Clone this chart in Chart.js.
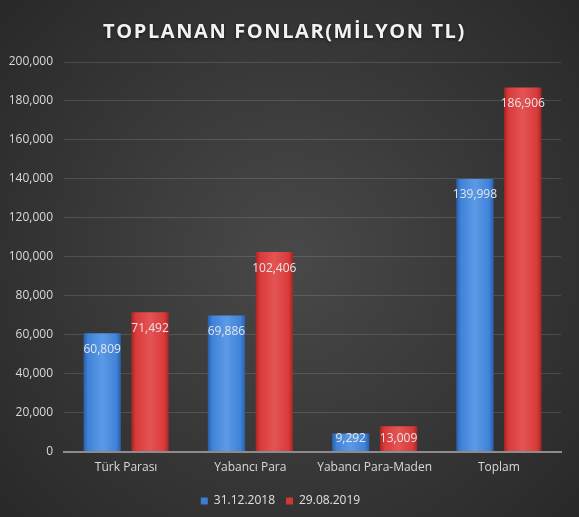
<!DOCTYPE html>
<html><head><meta charset="utf-8">
<script src="https://cdn.jsdelivr.net/npm/chart.js@4/dist/chart.umd.min.js"></script>
<style>html,body{margin:0;padding:0;background:#fff;}#wrap{width:579px;height:517px;position:relative;}</style>
</head><body><div id="wrap"><canvas id="c" width="579" height="517"></canvas></div>
<script>
const categories = ["Türk Parası", "Yabancı Para", "Yabancı Para-Maden", "Toplam"];
const series2018 = [60809, 69886, 9292, 139998];
const series2019 = [71492, 102406, 13009, 186906];
const seriesNames = ["31.12.2018", "29.08.2019"];
const titleText = "TOPLANAN FONLAR(MİLYON TL)";

const CAT_PCT = 0.77, BAR_PCT = 0.78;
const palettes = [
  {dark:"#2a5ea8", mid:"#3f82d8", light:"#5c9ae6", solid:"#3b7bd0"},
  {dark:"#a82424", mid:"#d93a3a", light:"#e45454", solid:"#d23636"}
];

function barGrad(ctx){
  const chart = ctx.chart, p = palettes[ctx.datasetIndex];
  const xs = chart.scales.x;
  if(!xs || !chart.chartArea || ctx.dataIndex === undefined) return p.solid;
  const catW = xs.width / categories.length;
  const slot = catW * CAT_PCT / 2;
  const cx = xs.getPixelForValue(ctx.dataIndex) + (ctx.datasetIndex - 0.5) * slot;
  const w = slot * BAR_PCT;
  const g = chart.ctx.createLinearGradient(cx - w/2, 0, cx + w/2, 0);
  g.addColorStop(0, p.dark); g.addColorStop(0.12, p.mid); g.addColorStop(0.5, p.light);
  g.addColorStop(0.88, p.mid); g.addColorStop(1, p.dark);
  return g;
}

const bgPlugin = {
  id:'bg',
  beforeDraw(chart){
    const {ctx, width, height} = chart;
    ctx.save();
    const g = ctx.createRadialGradient(width/2, height/2, 20, width/2, height/2, Math.max(width,height)*0.7);
    g.addColorStop(0, "#474747"); g.addColorStop(1, "#272727");
    ctx.fillStyle = g; ctx.fillRect(0,0,width,height);
    ctx.restore();
  }
};
const titlePlugin = {
  id:'ttl',
  afterDraw(chart){
    const ctx = chart.ctx;
    ctx.save();
    ctx.font = "bold 20px 'Open Sans', sans-serif";
    try{ ctx.letterSpacing = "1.6px"; }catch(e){}
    ctx.fillStyle = "#f2f2f2"; ctx.textAlign = "center"; ctx.textBaseline = "middle";
    ctx.shadowColor = "rgba(0,0,0,0.6)"; ctx.shadowBlur = 3; ctx.shadowOffsetY = 1;
    ctx.fillText(titleText, chart.width/2 - 5, 32);
    ctx.restore();
  }
};
const labelPlugin = {
  id:'lbl',
  afterDatasetsDraw(chart){
    const ctx = chart.ctx, ys = chart.scales.y;
    const base = ys.getPixelForValue(0);
    ctx.save();
    ctx.font = "12px 'Open Sans', sans-serif";
    ctx.textAlign = "center"; ctx.textBaseline = "middle";
    ctx.fillStyle = "#e6e6e6";
    chart.data.datasets.forEach((ds, di) => {
      chart.getDatasetMeta(di).data.forEach((el, i) => {
        const v = ds.data[i];
        const y = Math.min(el.y + 16, base - 13);
        ctx.fillText(v.toLocaleString('en-US'), el.x, y);
      });
    });
    ctx.restore();
  }
};

new Chart(document.getElementById('c'), {
  type:'bar',
  data:{
    labels: categories,
    datasets:[
      {label: seriesNames[0], data: series2018, backgroundColor: barGrad, borderWidth:0,
       categoryPercentage: CAT_PCT, barPercentage: BAR_PCT},
      {label: seriesNames[1], data: series2019, backgroundColor: barGrad, borderWidth:0,
       categoryPercentage: CAT_PCT, barPercentage: BAR_PCT}
    ]
  },
  options:{
    responsive:false, animation:false,
    layout:{padding:{top:62, right:18, bottom:0, left:0}},
    plugins:{
      legend:{position:'bottom', labels:{color:"#e0e0e0", boxWidth:7, boxHeight:7, padding:11,
        font:{family:"'Open Sans', sans-serif", size:12},
        generateLabels(chart){
          return chart.data.datasets.map((ds,i)=>({text:ds.label, fillStyle:palettes[i].solid, strokeStyle:palettes[i].solid, lineWidth:0, fontColor:"#e0e0e0", datasetIndex:i}));
        }}},
      title:{display:false}, tooltip:{enabled:false}
    },
    scales:{
      x:{grid:{display:false, drawTicks:false}, border:{color:"#8c8c8c", width:2},
         ticks:{color:"#d9d9d9", padding:9, font:{family:"'Open Sans', sans-serif", size:12}}},
      y:{min:0, max:200000, grid:{color:"rgba(255,255,255,0.13)", drawTicks:false}, border:{display:false},
         ticks:{stepSize:20000, color:"#d9d9d9", padding:11, font:{family:"'Open Sans', sans-serif", size:12},
           callback:v=>v.toLocaleString('en-US')},
         afterFit(s){ s.width = 64; }}
    }
  },
  plugins:[bgPlugin, titlePlugin, labelPlugin]
});
</script></body></html>
